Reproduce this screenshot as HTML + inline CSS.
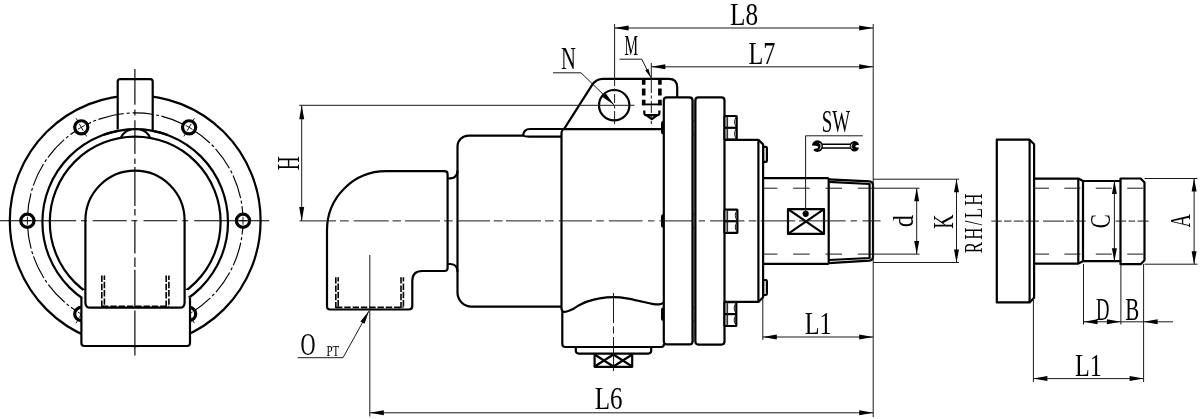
<!DOCTYPE html>
<html><head><meta charset="utf-8"><title>Drawing</title>
<style>
html,body{margin:0;padding:0;background:#fff;overflow:hidden;}
svg{display:block;}
.m{fill:none;stroke:#000;stroke-width:2.2;stroke-linejoin:round;stroke-linecap:butt;}
.mf{fill:#fff;stroke:#000;stroke-width:2.2;stroke-linejoin:round;}
.t{fill:none;stroke:#1a1a1a;stroke-width:1;}
.c{fill:none;stroke:#000;stroke-width:1.15;}
.d{fill:none;stroke:#000;stroke-width:1.6;stroke-dasharray:6.4 1.9;}
.d2{fill:none;stroke:#000;stroke-width:1.8;stroke-dasharray:4.5 2.2;}
.ah{fill:#000;stroke:none;}
text{font-family:"Liberation Serif",serif;fill:#000;}
</style></head><body>
<svg width="1200" height="419" viewBox="0 0 1200 419" style="filter:grayscale(1)">
<rect width="1200" height="419" fill="#fff"/>
<circle class="m" cx="135.2" cy="220.7" r="125.4"/>
<circle class="c" cx="135.2" cy="220.7" r="107.8" stroke-dasharray="24 2.5 3 2.5" stroke-dashoffset="10"/>
<circle class="m" cx="135.2" cy="222.0" r="92.8"/>
<circle class="m" cx="135.2" cy="222.0" r="85.4"/>
<circle cx="243.00" cy="220.70" r="6.6" fill="#fff" stroke="#000" stroke-width="3.2"/>
<path class="t" d="M239.00,220.70L247.00,220.70M243.00,216.70L243.00,224.70" stroke-width="0.8"/>
<line class="t" x1="183.85" y1="304.96" x2="194.35" y2="323.15"/>
<circle cx="189.10" cy="314.06" r="6.6" fill="#fff" stroke="#000" stroke-width="3.2"/>
<path class="t" d="M187.10,310.59L191.10,317.52M192.56,312.06L185.64,316.06" stroke-width="0.8"/>
<line class="t" x1="86.55" y1="304.96" x2="76.05" y2="323.15"/>
<circle cx="81.30" cy="314.06" r="6.6" fill="#fff" stroke="#000" stroke-width="3.2"/>
<path class="t" d="M83.30,310.59L79.30,317.52M84.76,316.06L77.84,312.06" stroke-width="0.8"/>
<circle cx="27.40" cy="220.70" r="6.6" fill="#fff" stroke="#000" stroke-width="3.2"/>
<path class="t" d="M31.40,220.70L23.40,220.70M27.40,224.70L27.40,216.70" stroke-width="0.8"/>
<line class="t" x1="86.55" y1="136.44" x2="76.05" y2="118.25"/>
<circle cx="81.30" cy="127.34" r="6.6" fill="#fff" stroke="#000" stroke-width="3.2"/>
<path class="t" d="M83.30,130.81L79.30,123.88M77.84,129.34L84.76,125.34" stroke-width="0.8"/>
<line class="t" x1="183.85" y1="136.44" x2="194.35" y2="118.25"/>
<circle cx="189.10" cy="127.34" r="6.6" fill="#fff" stroke="#000" stroke-width="3.2"/>
<path class="t" d="M187.10,130.81L191.10,123.88M185.64,125.34L192.56,129.34" stroke-width="0.8"/>
<path d="M117.7,132V79.2H152.7V132Z" fill="#fff" stroke="none"/>
<path class="m" d="M104,134.75A92.8,92.8 0 0 1 167.2,134.75"/>
<path class="m" d="M117.7,129.6V81.7Q117.7,79.2 120.2,79.2H150.2Q152.7,79.2 152.7,81.7V130.8"/>
<path class="c" d="M117.7,114.40A107.8,107.8 0 0 1 152.7,114.26" stroke-dasharray="6 3 3 3 20 3 3 3"/>
<path class="m" d="M121.1,137.2Q124,131.2 131,129.5M149.9,137.2Q147,131.2 140,129.5"/>
<path class="mf" d="M81.4,297.5V343Q81.4,346 84.4,346H187Q190,346 190,343V297.5" />
<path d="M83.2,290H188.2V300H83.2Z" fill="#fff" stroke="none"/>
<path class="mf" d="M85.4,220.5A49.6,49.9 0 0 1 184.6,220.5V302.7Q184.6,307.7 179.6,307.7H90.4Q85.4,307.7 85.4,302.7Z"/>
<line class="d" x1="101.8" y1="275.5" x2="101.8" y2="307" stroke-dashoffset="0"/>
<line class="d" x1="104.4" y1="275.5" x2="104.4" y2="307" stroke-dashoffset="2"/>
<line class="d" x1="166.2" y1="275.5" x2="166.2" y2="307" stroke-dashoffset="0"/>
<line class="d" x1="168.9" y1="275.5" x2="168.9" y2="307" stroke-dashoffset="2"/>
<line class="d" x1="102" y1="306.3" x2="169" y2="306.3" stroke-dasharray="8.5 3" stroke-width="1.8"/>
<line class="c" x1="0" y1="220.7" x2="269.5" y2="220.7" stroke-dasharray="76.2 4.8 6 5.7 34 4.7 6 6.1 33.8 4.9 6 6 75"/>
<line class="c" x1="134.9" y1="69" x2="134.9" y2="355.6" stroke-dasharray="35.8 4.7 6 4.7 33.8 4.6 5.5 3 39 3 6.5 5 33 4 9.5 2.7 38 2.8 45"/>
<path class="mf" d="M447.6,174.2Q447.6,171.2 444.6,171.2H386A59,59 0 0 0 327,230.2V306.5Q327,309.5 330,309.5H408.8Q412.3,309.5 412.3,306V281Q412.3,271 422.3,271H444.6Q447.6,271 447.6,268Z"/>
<line class="d" x1="335.8" y1="277.2" x2="335.8" y2="308" stroke-dashoffset="0"/>
<line class="d" x1="338.2" y1="277.2" x2="338.2" y2="308" stroke-dashoffset="2"/>
<line class="d" x1="401" y1="277.2" x2="401" y2="308" stroke-dashoffset="0"/>
<line class="d" x1="403.4" y1="277.2" x2="403.4" y2="308" stroke-dashoffset="2"/>
<line class="d" x1="336" y1="307.4" x2="403.4" y2="307.4" stroke-dasharray="7.8 2.6"/>
<path class="m" d="M447.6,178.3H450.5Q457.5,178 457.5,170.5"/>
<path class="m" d="M447.6,264H450.5Q457.5,264.3 457.5,271.8"/>
<path class="m" d="M561.5,136.6H529Q525,136.6 523.1,135.6H468.5A11,11 0 0 0 457.5,146.6V292.6A14,14 0 0 0 471.5,306.6H561.5"/>
<path class="m" d="M523.1,135.6Q523.5,129 530,129H564"/>
<path class="m" d="M564.5,129Q561.5,129.5 561.5,133.5V309.5"/>
<path class="m" d="M564,129.2L592,85.2Q596,78.9 603,78.9H668.8Q677.2,78.9 677.2,87.3V97.6"/>
<path class="m" d="M564,129.2H661.5"/>
<circle class="m" cx="614.2" cy="105.2" r="15.2"/>
<line x1="643.7" y1="78.6" x2="643.7" y2="105.2" stroke="#000" stroke-width="3.6" stroke-dasharray="6.2 3.6 7.2 4.2 6 9"/>
<line x1="659.9" y1="78.6" x2="659.9" y2="105.2" stroke="#000" stroke-width="3.6" stroke-dasharray="6.2 3.6 7.2 4.2 6 9"/>
<line x1="641.9" y1="104.4" x2="661.7" y2="104.4" stroke="#000" stroke-width="1.8"/>
<path class="m" stroke-width="1.7" d="M644.3,110.6V113.2Q644.3,115.2 647,115.2H656.7Q659.4,115.2 659.4,113.2V110.6M646.3,115.2L651.8,119.2L657.3,115.2"/>
<rect class="mf" x="663.8" y="97.4" width="28.7" height="247" rx="3" stroke-width="2"/>
<rect class="mf" x="695.4" y="97.4" width="29.1" height="247.2" rx="3" stroke-width="2"/>
<line class="t" x1="694" y1="100" x2="694" y2="342"/>
<path class="t" d="M692.5,120.8H695.4M692.5,134.6H695.4"/>
<path d="M663.8,120.8Q661,120.8 661,123.3V132.1Q661,134.6 663.8,134.6Z" fill="#000"/>
<path class="t" d="M692.5,214H695.4M692.5,227.8H695.4"/>
<path d="M663.8,214Q661,214 661,216.5V225.3Q661,227.8 663.8,227.8Z" fill="#000"/>
<path class="t" d="M692.5,307.3H695.4M692.5,321H695.4"/>
<path d="M663.8,307.3Q661,307.3 661,309.8V318.5Q661,321 663.8,321Z" fill="#000"/>
<path class="m" d="M561.5,309C561.78,309.47 562.20,311.42 563.2,311.8C564.20,312.18 565.70,311.87 567.5,311.3C569.30,310.73 571.92,309.48 574,308.4C576.08,307.32 577.72,305.97 580,304.8C582.28,303.63 584.43,302.47 587.7,301.4C590.97,300.33 595.30,299.10 599.6,298.4C603.90,297.70 608.73,297.17 613.5,297.2C618.27,297.23 623.35,297.83 628.2,298.6C633.05,299.37 638.63,300.93 642.6,301.8C646.57,302.67 649.22,303.37 652,303.8C654.78,304.23 657.30,304.60 659.3,304.4C661.30,304.20 663.22,302.90 664,302.6"/>
<path class="m" d="M562.3,311V344Q562.3,347 565.3,347H661Q664,347 664,344"/>
<path class="m" d="M575.8,347V350.6Q575.8,353.6 578.8,353.6H648.2Q651.2,353.6 651.2,350.6V347"/>
<path class="m" stroke-width="1.9" d="M594.6,353.6V366.8H632.2V353.6"/>
<path class="m" stroke-width="1.3" d="M594.6,354.5L613.4,366.5M613.4,354.5L594.6,366.5M613.4,354.5L632.2,366.5M632.2,354.5L613.4,366.5"/>
<line class="t" x1="613.5" y1="293" x2="613.5" y2="371" stroke-dasharray="30 3.5 7 3.5 40"/>
<rect class="mf" x="724.5" y="116" width="12.2" height="23.599999999999994" rx="0.5" stroke-width="1.8"/>
<rect x="725.4" y="117" width="1.6" height="21.599999999999994" fill="#888"/>
<line class="m" x1="724.5" y1="127.8" x2="736.7" y2="127.8" stroke-width="1.8"/>
<line class="t" x1="727.6" y1="116" x2="727.6" y2="139.6" stroke-width="1.4"/>
<path class="t" d="M736.2,117Q732.9000000000001,121.9 736.2,126.8M736.2,128.8Q732.9000000000001,133.7 736.2,138.6" stroke-width="0.8"/>
<rect class="mf" x="724.5" y="209.6" width="12.9" height="23.200000000000017" rx="0.5" stroke-width="1.8"/>
<rect x="725.4" y="210.6" width="1.6" height="21.200000000000017" fill="#888"/>
<line class="m" x1="724.5" y1="221.2" x2="737.4" y2="221.2" stroke-width="1.8"/>
<line class="t" x1="727.6" y1="209.6" x2="727.6" y2="232.8" stroke-width="1.4"/>
<path class="t" d="M736.9,210.6Q733.6,215.39999999999998 736.9,220.2M736.9,222.2Q733.6,227.0 736.9,231.8" stroke-width="0.8"/>
<rect class="mf" x="724.5" y="302.2" width="11.8" height="23.80000000000001" rx="0.5" stroke-width="1.8"/>
<rect x="725.4" y="303.2" width="1.6" height="21.80000000000001" fill="#888"/>
<line class="m" x1="724.5" y1="314.1" x2="736.3" y2="314.1" stroke-width="1.8"/>
<line class="t" x1="727.6" y1="302.2" x2="727.6" y2="326" stroke-width="1.4"/>
<path class="t" d="M735.8,303.2Q732.5,308.15 735.8,313.1M735.8,315.1Q732.5,320.05 735.8,325" stroke-width="0.8"/>
<path class="m" d="M724.5,139.8H758.4L763.1,144.4V297.3L758.4,301.9H724.5"/>
<line class="m" x1="758.4" y1="140" x2="758.4" y2="301.9" stroke-width="1.6"/>
<rect class="m" x="763.1" y="146.9" width="3.8" height="15.0" rx="1.2" stroke-width="1.5"/>
<rect class="m" x="763.1" y="280" width="3.8" height="15" rx="1.2" stroke-width="1.5"/>
<path class="m" d="M763.4,178.2H828.7M763.4,263.8H828.7M828.7,178.2V263.8"/>
<path class="m" stroke-width="1.7" d="M828.7,179.3L869.5,181.3Q873,181.7 873,185V257Q873,260.3 869.5,260.7L828.7,263.2"/>
<path class="m" stroke-width="1.5" d="M828.7,181.9L869.6,184V258L828.7,260"/>
<line class="t" x1="763.4" y1="188.2" x2="872" y2="188.2" stroke-dasharray="16.5 15.8" stroke-dashoffset="2.5" stroke-width="1.4"/>
<line class="t" x1="763.4" y1="254.1" x2="872" y2="254.1" stroke-dasharray="16.5 15.8" stroke-dashoffset="2.5" stroke-width="1.4"/>
<path class="mf" d="M788,209.1H824V233.9H788Z"/>
<path class="m" stroke-width="1.6" d="M788,209.1L824,233.9M824,209.1L788,233.9"/>
<circle cx="805.7" cy="213.8" r="3.1" fill="#000"/>
<line class="t" x1="805.6" y1="213" x2="805.6" y2="135.8" />
<line class="t" x1="805.6" y1="135.8" x2="862.8" y2="135.8" />
<g stroke="none"><path d="M821.5,144.3H851M821.5,148H851" stroke="#000" stroke-width="1.5" fill="none"/><ellipse cx="817.4" cy="146.1" rx="5.6" ry="5.9" fill="#000"/><path d="M810,145.2L817.4,145.9Q818.6,147.1 817.6,148.2L813.9,148.9L813.6,153H810Z" fill="#fff"/><path d="M819.3,142.9A3.9,3.9 0 0 1 819.3,149.5" stroke="#fff" stroke-width="1" fill="none"/><ellipse cx="854.5" cy="146.2" rx="4.7" ry="5.3" fill="#000"/><path d="M861,144.4L855.8,145.3Q854.8,146.3 855.8,147.3L861,148Z" fill="#fff"/><path d="M852.5,143.7A3.2,3.2 0 0 0 852.5,148.9" stroke="#fff" stroke-width="0.9" fill="none"/></g>
<path class="t" d="M299.5,220.9H336M340,220.9H348.7M353.7,220.9H388.7M392.5,220.9H401M405,220.9H440M444,220.9H452.7M457,220.9H490M493.7,220.9H502.5M506,220.9H541M545,220.9H553.7M558.7,220.9H592M596.3,220.9H603.8M608.8,220.9H642.5M648,220.9H654.4M659.4,220.9H693M698.8,220.9H705M710,220.9H744.4M748.8,220.9H756.3M760.6,220.9H795M799,220.9H845.6M850.6,220.9H856.9M862.5,220.9H880.6"/>
<line class="t" x1="614.6" y1="24" x2="614.6" y2="124" stroke-dasharray="62 2.5 3 2.5 9 2.5 3 2.5 30"/>
<line class="t" x1="873.2" y1="24" x2="873.2" y2="417" />
<line class="t" x1="614.6" y1="28" x2="873.2" y2="28" />
<polygon class="ah" points="614.60,28.00 628.60,25.50 628.60,30.50"/>
<polygon class="ah" points="873.20,28.00 859.20,30.50 859.20,25.50"/>
<line class="t" x1="651.3" y1="63" x2="651.3" y2="124" stroke-dasharray="30 2.5 3 2.5 12 2.5 3 2.5"/>
<line class="t" x1="651.3" y1="66.8" x2="873.2" y2="66.8" />
<polygon class="ah" points="651.30,66.80 665.30,64.30 665.30,69.30"/>
<polygon class="ah" points="873.20,66.80 859.20,69.30 859.20,64.30"/>
<line class="t" x1="619.6" y1="59.2" x2="641.8" y2="59.2" />
<line class="t" x1="641.8" y1="59.2" x2="650.8" y2="77.5" />
<polygon class="ah" points="650.80,77.50 645.21,70.22 648.44,68.63"/>
<line class="t" x1="553" y1="72.8" x2="581" y2="72.8" />
<line class="t" x1="581" y1="72.8" x2="614.2" y2="105" />
<polygon class="ah" points="614.20,105.00 602.48,96.98 605.82,93.53"/>
<line class="t" x1="299.2" y1="105.3" x2="634.5" y2="105.3" />
<line class="t" x1="301.7" y1="105.3" x2="301.7" y2="220.9" />
<polygon class="ah" points="301.70,105.30 304.20,119.30 299.20,119.30"/>
<polygon class="ah" points="301.70,220.90 299.20,206.90 304.20,206.90"/>
<line class="t" x1="369.8" y1="255" x2="369.8" y2="312" stroke-width="0.7"/>
<line class="t" x1="369.8" y1="312" x2="369.8" y2="416.5" />
<line class="t" x1="369.8" y1="412.8" x2="873.2" y2="412.8" />
<polygon class="ah" points="369.80,412.80 383.80,410.30 383.80,415.30"/>
<polygon class="ah" points="873.20,412.80 859.20,415.30 859.20,410.30"/>
<line class="t" x1="297.6" y1="357.7" x2="343" y2="357.7" />
<line class="t" x1="343" y1="357.7" x2="368.8" y2="311.2" />
<polygon class="ah" points="368.80,311.20 364.59,323.73 360.39,321.40"/>
<line class="t" x1="762.8" y1="297" x2="762.8" y2="340" />
<line class="t" x1="762.8" y1="337" x2="873.2" y2="337" />
<polygon class="ah" points="762.80,337.00 776.80,334.50 776.80,339.50"/>
<polygon class="ah" points="873.20,337.00 859.20,339.50 859.20,334.50"/>
<line class="t" x1="873" y1="188.2" x2="919.5" y2="188.2" />
<line class="t" x1="873" y1="254.1" x2="919.5" y2="254.1" />
<line class="t" x1="916.7" y1="188.2" x2="916.7" y2="254.1" />
<polygon class="ah" points="916.70,188.20 919.20,201.20 914.20,201.20"/>
<polygon class="ah" points="916.70,254.10 914.20,241.10 919.20,241.10"/>
<line class="t" x1="873" y1="179.2" x2="959" y2="179.2" />
<line class="t" x1="873" y1="262.5" x2="959" y2="262.5" />
<line class="t" x1="956.5" y1="179.2" x2="956.5" y2="262.5" />
<polygon class="ah" points="956.50,179.20 959.00,192.20 954.00,192.20"/>
<polygon class="ah" points="956.50,262.50 954.00,249.50 959.00,249.50"/>
<path class="m" d="M996.8,139.7H1029.6L1034.1,144.3V297.8L1029.6,302.4H996.8Z"/>
<line class="m" x1="1029.6" y1="139.7" x2="1029.6" y2="302.4" stroke-width="1.6"/>
<path class="m" d="M1034.1,178.6H1078.3L1083,181H1120.5V178.5H1140.7L1144.5,182.5V260.2L1140.7,264.2H1120.5V261.2H1083L1078.3,263.6H1034.1"/>
<path class="m" d="M1078.3,178.6V263.6M1083,181V261.2M1120.5,181V261.2"/>
<line class="t" x1="1033" y1="188.2" x2="1144.3" y2="188.2" stroke-dasharray="16 15.4" stroke-width="1.4"/>
<line class="t" x1="1033" y1="254.1" x2="1144.3" y2="254.1" stroke-dasharray="16 15.4" stroke-width="1.4"/>
<line class="t" x1="991.3" y1="221.1" x2="1148.7" y2="221.1" stroke-dasharray="10.5 2.2 7.5 2.3 9.7 2.3 13.2 4 21 2 7.8 2.2 9.7 30 10.3 2.5 6.5 2.5 11.2"/>
<line class="t" x1="1114.4" y1="181" x2="1114.4" y2="261.2" />
<polygon class="ah" points="1114.40,181.00 1116.90,194.00 1111.90,194.00"/>
<polygon class="ah" points="1114.40,261.20 1111.90,248.20 1116.90,248.20"/>
<line class="t" x1="1144.5" y1="178.5" x2="1197.5" y2="178.5" />
<line class="t" x1="1144.5" y1="264.2" x2="1197.5" y2="264.2" />
<line class="t" x1="1194.1" y1="178.5" x2="1194.1" y2="264.2" />
<polygon class="ah" points="1194.10,178.50 1196.60,191.50 1191.60,191.50"/>
<polygon class="ah" points="1194.10,264.20 1191.60,251.20 1196.60,251.20"/>
<line class="t" x1="1083.5" y1="264" x2="1083.5" y2="324.5" />
<line class="t" x1="1120.9" y1="264" x2="1120.9" y2="324.5" />
<line class="t" x1="1143.6" y1="264" x2="1143.6" y2="382" />
<line class="t" x1="1033.4" y1="298" x2="1033.4" y2="382" />
<line class="t" x1="1083.5" y1="321.8" x2="1173" y2="321.8" />
<polygon class="ah" points="1083.50,321.80 1097.50,319.30 1097.50,324.30"/>
<polygon class="ah" points="1120.90,321.80 1106.90,324.30 1106.90,319.30"/>
<polygon class="ah" points="1143.60,321.80 1157.60,319.30 1157.60,324.30"/>
<line class="t" x1="1033.4" y1="378.6" x2="1143.6" y2="378.6" />
<polygon class="ah" points="1033.40,378.60 1047.40,376.10 1047.40,381.10"/>
<polygon class="ah" points="1143.60,378.60 1129.60,381.10 1129.60,376.10"/>
<text x="730" y="25" font-size="30.53" textLength="28.00" lengthAdjust="spacingAndGlyphs" >L8</text>
<text x="748.5" y="64" font-size="30.53" textLength="26.90" lengthAdjust="spacingAndGlyphs" >L7</text>
<text x="624.6" y="55.4" font-size="29.01" textLength="13.60" lengthAdjust="spacingAndGlyphs" >M</text>
<text x="561" y="68.6" font-size="30.53" textLength="14.90" lengthAdjust="spacingAndGlyphs" >N</text>
<text x="821.8" y="131.5" font-size="30.53" textLength="28.40" lengthAdjust="spacingAndGlyphs" >SW</text>
<text x="804.7" y="334" font-size="30.53" textLength="26.90" lengthAdjust="spacingAndGlyphs" >L1</text>
<text x="594.7" y="409.4" font-size="30.53" textLength="27.80" lengthAdjust="spacingAndGlyphs" >L6</text>
<text x="300.5" y="355.4" font-size="30.53" textLength="15.00" lengthAdjust="spacingAndGlyphs" >O</text>
<text x="326.4" y="355.6" font-size="14.35" textLength="12.80" lengthAdjust="spacingAndGlyphs" >PT</text>
<text x="1096" y="319.5" font-size="30.53" textLength="13.50" lengthAdjust="spacingAndGlyphs" >D</text>
<text x="1125.2" y="319.5" font-size="30.53" textLength="14.00" lengthAdjust="spacingAndGlyphs" >B</text>
<text x="1075" y="375.9" font-size="30.53" textLength="26.80" lengthAdjust="spacingAndGlyphs" >L1</text>
<text transform="translate(299,170.3) rotate(-90)" x="0" y="0" font-size="30.53" textLength="14.00" lengthAdjust="spacingAndGlyphs">H</text>
<text transform="translate(913,227.3) rotate(-90)" x="0" y="0" font-size="29.31" textLength="12.30" lengthAdjust="spacingAndGlyphs">d</text>
<text transform="translate(953,228.7) rotate(-90)" x="0" y="0" font-size="29.16" textLength="14.30" lengthAdjust="spacingAndGlyphs">K</text>
<text transform="translate(982.2,253.2) rotate(-90) scale(0.68,1)" x="0" y="0" font-size="24.73" textLength="87.65" lengthAdjust="spacing">RH/LH</text>
<text transform="translate(1110.3,228.2) rotate(-90)" x="0" y="0" font-size="29.47" textLength="14.00" lengthAdjust="spacingAndGlyphs">C</text>
<text transform="translate(1190.4,227.6) rotate(-90)" x="0" y="0" font-size="29.01" textLength="13.40" lengthAdjust="spacingAndGlyphs">A</text>
</svg>
</body></html>
